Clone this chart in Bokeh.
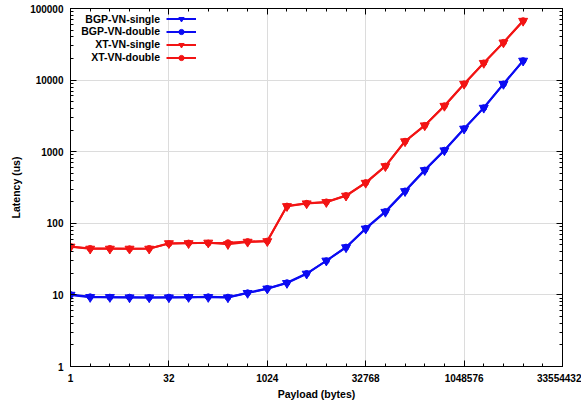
from bokeh.plotting import figure
from bokeh.models import (Range1d, LogAxis, FixedTicker, CustomJSTickFormatter,
                          Legend, LegendItem, Label)
from bokeh.embed import file_html
from bokeh.resources import INLINE

# Payload sizes: powers of two from 1 B to 8 MiB
payload = [2 ** k for k in range(24)]

bgp_single = [10.0, 9.3, 9.3, 9.2, 9.2, 9.2, 9.3, 9.3, 9.2, 10.6, 12.2, 14.6,
              19.7, 30, 46, 84, 144, 280, 550, 1040, 2090, 4090, 8800, 18600]
bgp_double = [10.1, 9.4, 9.3, 9.3, 9.2, 9.3, 9.3, 9.4, 9.3, 10.7, 12.3, 14.8,
              19.9, 30, 46.5, 85, 146, 283, 555, 1050, 2100, 4120, 8850, 18700]
xt_single = [47, 44, 44, 44, 44, 52.5, 52.5, 53.5, 51, 55, 56, 173,
             189, 197, 242, 366, 625, 1390, 2320, 4350, 8830, 17300, 33400, 67000]
xt_double = [47.5, 44.5, 44.5, 44, 44.5, 52, 53, 53, 53.5, 55.5, 56.5, 174,
             190, 199, 244, 370, 630, 1400, 2330, 4380, 8870, 17400, 33600, 67500]

series_names = ["BGP-VN-single", "BGP-VN-double", "XT-VN-single", "XT-VN-double"]

x_major = [2 ** k for k in range(0, 26, 5)]
x_minor = [2 ** k for k in range(0, 26)]
y_major = [10 ** k for k in range(6)]
y_minor = [m * 10 ** k for k in range(5) for m in range(2, 10)]

FONT = "Liberation Sans"
BLUE = "#0b0bf2"
RED = "#f21414"

p = figure(width=581, height=402, x_axis_type="log", y_axis_type="log",
           x_range=Range1d(1, 2 ** 25), y_range=Range1d(1, 1e5),
           output_backend="svg", toolbar_location=None,
           min_border_left=70, min_border_right=19,
           min_border_top=8, min_border_bottom=35)
p.outline_line_color = "black"
p.background_fill_color = "white"
p.border_fill_color = "white"

xticker = FixedTicker(ticks=x_major, minor_ticks=x_minor)
yticker = FixedTicker(ticks=y_major, minor_ticks=y_minor)
fmt = CustomJSTickFormatter(code="return tick.toFixed(0);")

def style_axis(ax, ticker, show_labels=True):
    ax.ticker = ticker
    ax.axis_line_color = "black"
    ax.major_tick_line_color = "black"
    ax.minor_tick_line_color = "black"
    ax.major_tick_in = 6
    ax.major_tick_out = 0
    ax.minor_tick_in = 3
    ax.minor_tick_out = 0
    if show_labels:
        ax.formatter = fmt
        ax.major_label_text_font = FONT
        ax.major_label_text_font_style = "bold"
        ax.major_label_text_font_size = "10px"
        ax.major_label_text_color = "black"
        ax.axis_label_text_font = FONT
        ax.axis_label_text_font_style = "bold"
        ax.axis_label_text_font_size = "10.5px"
        ax.axis_label_text_color = "black"
    else:
        ax.major_label_text_font_size = "1px"
        ax.major_label_text_alpha = 0
        ax.major_label_standoff = 0

xa = p.xaxis[0]
ya = p.yaxis[0]
style_axis(xa, xticker)
style_axis(ya, yticker)
xa.axis_label = "Payload (bytes)"
ya.axis_label = "Latency (us)"
xa.major_label_standoff = 7
xa.axis_label_standoff = 3
ya.major_label_standoff = 7
ya.axis_label_standoff = 5

top_ax = LogAxis()
right_ax = LogAxis()
style_axis(top_ax, xticker, show_labels=False)
style_axis(right_ax, yticker, show_labels=False)
p.add_layout(top_ax, "above")
p.add_layout(right_ax, "right")

p.xgrid.ticker = xticker
p.ygrid.ticker = yticker
for g in (p.xgrid[0], p.ygrid[0]):
    g.grid_line_color = "#dcdcdc"
    g.grid_line_width = 1

renderers = []
for vals, color, marker, size in [
    (bgp_double, BLUE, "circle", 6),
    (xt_double, RED, "circle", 6),
    (bgp_single, BLUE, "inverted_triangle", 9),
    (xt_single, RED, "inverted_triangle", 9),
]:
    ln = p.line(payload, vals, line_color=color, line_width=2)
    sc = p.scatter(payload, vals, marker=marker, size=size,
                   fill_color=color, line_color=color)
    renderers.append((ln, sc))

bd, xd, bs, xs = renderers
items = [LegendItem(label=" ", renderers=list(r)) for r in (bs, bd, xs, xd)]
legend = Legend(items=items, location=(96, 302), glyph_width=30, glyph_height=13,
                spacing=0, padding=0, margin=0, label_standoff=0, label_width=1,
                label_height=13, label_text_font_size="2px",
                border_line_alpha=0, background_fill_alpha=0)
p.add_layout(legend)

for i, name in enumerate(series_names):
    p.add_layout(Label(x=89.5, y=348 - 12.7 * i, x_units="screen", y_units="screen",
                       text=name, text_align="right", text_baseline="middle",
                       text_font=FONT, text_font_style="bold",
                       text_font_size="10.5px", text_color="black"))

open("out.html", "w").write(file_html(p, INLINE))
